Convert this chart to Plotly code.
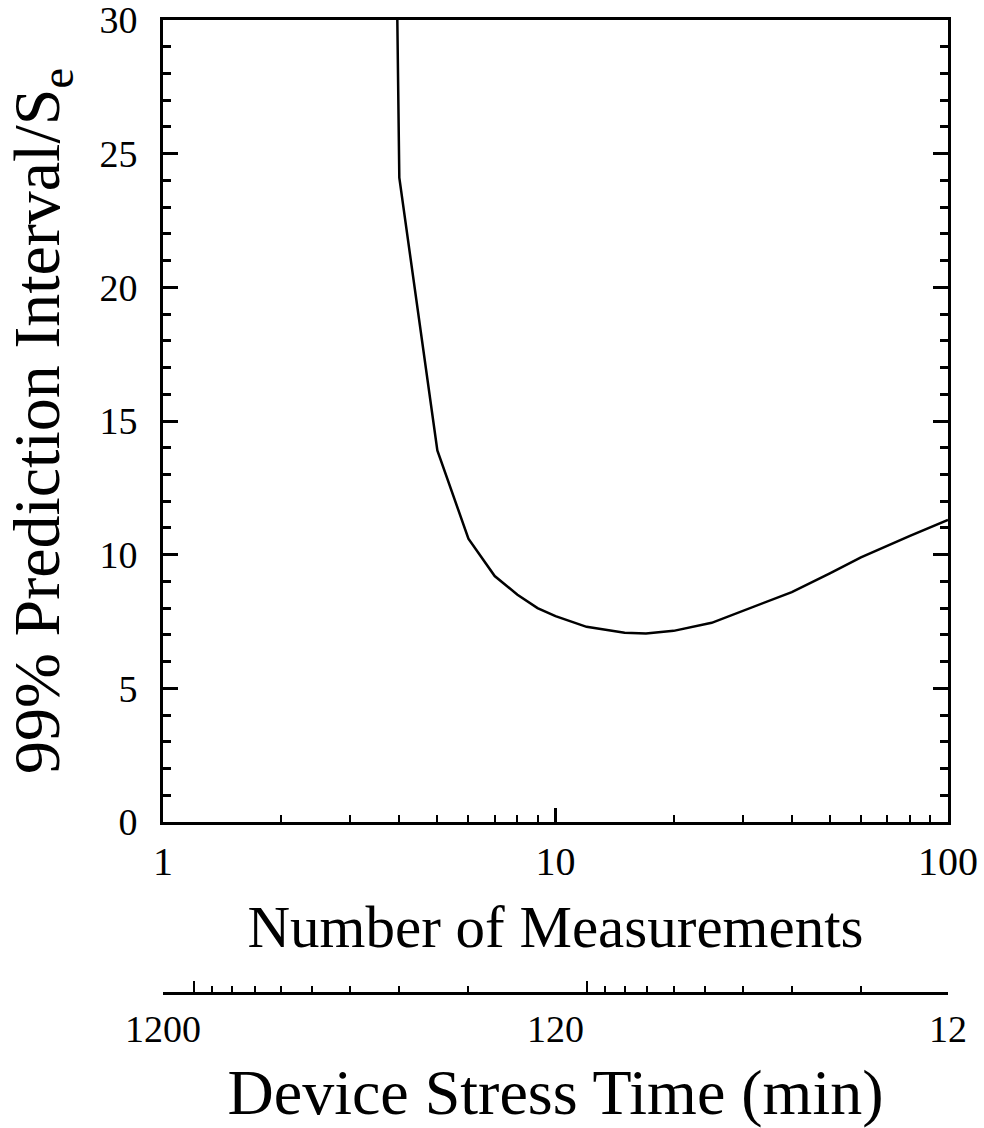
import plotly.graph_objects as go
import math

# Data
n_meas = [3, 4, 5, 6, 7, 8, 9, 10, 12, 15, 17, 20, 25, 30, 40, 50, 60, 80, 100]
pi_over_se = [170, 24.1, 13.9, 10.6, 9.2, 8.5, 8.0, 7.7, 7.3, 7.08, 7.05, 7.15,
              7.45, 7.9, 8.6, 9.3, 9.9, 10.7, 11.3]

x_ticks = [1, 10, 100]
x_minor = [2, 3, 4, 5, 6, 7, 8, 9, 20, 30, 40, 50, 60, 70, 80, 90]
y_ticks = [0, 5, 10, 15, 20, 25, 30]

time_labels = [1200, 120, 12]
time_major = [1000, 100]
time_minor = [900, 800, 700, 600, 500, 400, 300, 200, 90, 80, 70, 60, 50, 40, 30, 20]

FONT = "Liberation Serif"
W, H = 984, 1128
ML, MR, MT, MB = 163, 36, 20, 0
plot_h = H - MT - MB
y_bottom_px = 822
sec_axis_px = 993
dom_bottom = (H - MB - y_bottom_px) / plot_h
sec_pos = (H - MB - sec_axis_px) / plot_h

fig = go.Figure()
fig.add_trace(go.Scatter(x=n_meas, y=pi_over_se, mode="lines",
                         line=dict(color="black", width=2.5),
                         showlegend=False, hoverinfo="skip"))
# invisible traces to attach the secondary (time) axes
fig.add_trace(go.Scatter(x=[1200, 12], y=[-10, -10], mode="markers",
                         marker=dict(opacity=0), xaxis="x2", yaxis="y",
                         showlegend=False, hoverinfo="skip"))
fig.add_trace(go.Scatter(x=[1200, 12], y=[-10, -10], mode="markers",
                         marker=dict(opacity=0), xaxis="x3", yaxis="y",
                         showlegend=False, hoverinfo="skip"))

trange = [math.log10(1200), math.log10(12)]

fig.update_layout(
    width=W, height=H,
    margin=dict(l=ML, r=MR, t=MT, b=MB, autoexpand=False),
    paper_bgcolor="white", plot_bgcolor="white",
    font=dict(family=FONT, color="black"),
    xaxis=dict(
        type="log", range=[0, 2], domain=[0, 1], automargin=False,
        tickvals=x_ticks, ticktext=[str(v) for v in x_ticks],
        ticks="inside", ticklen=14, tickwidth=2.5, tickcolor="black",
        minor=dict(tickvals=x_minor, ticks="inside", ticklen=7, tickwidth=2, tickcolor="black"),
        showline=True, linewidth=3, linecolor="black", mirror=True,
        showgrid=False, zeroline=False,
        tickfont=dict(family=FONT, size=40),
        ticklabelstandoff=2, ticklabeloverflow="allow",
        title=dict(text="Number of Measurements", font=dict(family=FONT, size=59), standoff=23),
    ),
    yaxis=dict(
        range=[0, 30], domain=[dom_bottom, 1], automargin=False,
        tickvals=y_ticks,
        ticks="inside", ticklen=15, tickwidth=3, tickcolor="black",
        minor=dict(dtick=1, ticks="inside", ticklen=8, tickwidth=2.5, tickcolor="black"),
        showline=True, linewidth=3, linecolor="black", mirror="ticks",
        showgrid=False, zeroline=False,
        tickfont=dict(family=FONT, size=38),
        ticklabelstandoff=15, ticklabeloverflow="allow",
        title=dict(text="99% Prediction Interval/S<sub>e</sub>", font=dict(family=FONT, size=66), standoff=22),
    ),
    xaxis2=dict(
        type="log", range=trange, overlaying="x", anchor="free", position=sec_pos,
        side="bottom", automargin=False,
        tickvals=time_major, showticklabels=False,
        ticks="inside", ticklen=11, tickwidth=2, tickcolor="black",
        minor=dict(tickvals=time_minor, ticks="inside", ticklen=6, tickwidth=1.5, tickcolor="black"),
        showline=True, linewidth=3, linecolor="black",
        showgrid=False, zeroline=False,
    ),
    xaxis3=dict(
        type="log", range=trange, overlaying="x", anchor="free", position=sec_pos,
        side="bottom", automargin=False,
        tickvals=time_labels, ticktext=[str(v) for v in time_labels],
        ticks="", showline=False, showgrid=False, zeroline=False,
        tickfont=dict(family=FONT, size=38),
        ticklabelstandoff=10, ticklabeloverflow="allow",
        title=dict(text="Device Stress Time (min)", font=dict(family=FONT, size=64), standoff=20),
    ),
)

fig.write_html("out.html")
